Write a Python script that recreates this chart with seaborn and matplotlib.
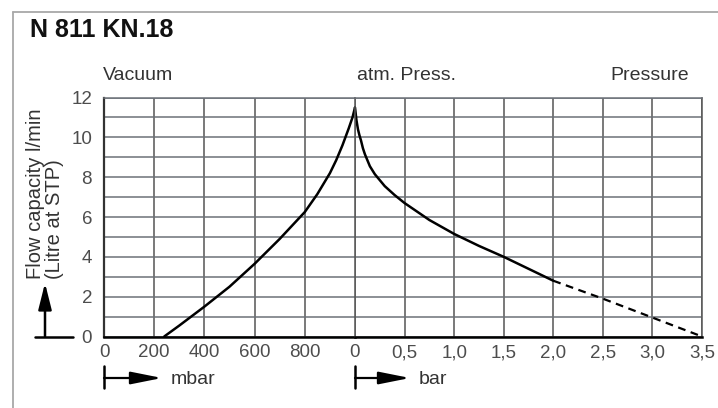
import matplotlib
matplotlib.use('Agg')
import matplotlib.pyplot as plt
import seaborn as sns
from matplotlib.lines import Line2D
from matplotlib.ticker import FuncFormatter

sns.set_style('white')
plt.rcParams['font.family'] = ['Liberation Sans', 'DejaVu Sans']

# Vacuum side (mbar) -> flow capacity l/min
vacuum_mbar = [240, 300, 400, 500, 600, 700, 800, 850, 900, 925, 950, 975,
               990, 1000]
vacuum_flow = [0.0, 0.55, 1.5, 2.5, 3.65, 4.9, 6.25, 7.15, 8.2, 8.85, 9.6,
               10.45, 11.0, 11.5]

# Pressure side (bar), measured part
pressure_bar = [0.0, 0.008, 0.015, 0.03, 0.045, 0.06, 0.08, 0.1, 0.15, 0.2,
                0.3, 0.4, 0.5, 0.75, 1.0, 1.25, 1.5, 1.75, 2.0]
pressure_flow = [11.5, 11.15, 10.85, 10.4, 10.1, 9.85, 9.45, 9.15, 8.55, 8.15,
                 7.55, 7.1, 6.7, 5.85, 5.15, 4.55, 4.0, 3.4, 2.8]

# Pressure side, extrapolated part (dashed)
extrap_bar = [2.0, 2.5, 3.0, 3.5]
extrap_flow = [2.8, 1.9, 0.95, 0.0]

mbar_ticks = [0, 200, 400, 600, 800]
bar_ticks = [0, 0.5, 1.0, 1.5, 2.0, 2.5, 3.0, 3.5]
flow_ticks = list(range(0, 13))

W, H = 718, 408
grid_v = '#555555'
grid_h = '#6c7178'
label_col = '#4d4d4d'
text_col = '#333333'


def fx(x):
    return x / W


def fy(y):
    return 1 - y / H


fig = plt.figure(figsize=(W / 100, H / 100), dpi=100)
left, mid, right = fx(104), fx(355), fx(702)
bottom, top = fy(336.5), fy(97.5)
ax_v = fig.add_axes([left, bottom, mid - left, top - bottom])
ax_p = fig.add_axes([mid, bottom, right - mid, top - bottom], sharey=ax_v)

for ax in (ax_v, ax_p):
    ax.set_ylim(0, 12)
    ax.set_yticks(flow_ticks)
    ax.grid(axis='y', color=grid_h, lw=1.1)
    ax.grid(axis='x', color=grid_v, lw=1.1)
    ax.spines['top'].set_color(grid_h)
    ax.spines['top'].set_linewidth(1.1)
    ax.spines['bottom'].set_color('black')
    ax.spines['bottom'].set_linewidth(1.8)
    ax.tick_params(axis='x', length=2.2, width=1.1, color=grid_v,
                   labelsize=13.5, labelcolor=label_col, pad=3.5)

ax_v.set_xlim(0, 1000)
ax_v.set_xticks(mbar_ticks)
ax_v.spines['left'].set_color('#333333')
ax_v.spines['left'].set_linewidth(1.6)
ax_v.spines['right'].set_visible(False)
ax_v.yaxis.set_major_formatter(
    FuncFormatter(lambda v, _: str(int(v)) if int(v) % 2 == 0 else ''))
ax_v.tick_params(axis='y', length=3.6, width=1.1, color=grid_h,
                 labelsize=13.5, labelcolor=label_col, pad=5)

ax_p.set_xlim(0, 3.5)
ax_p.set_xticks(bar_ticks)
ax_p.xaxis.set_major_formatter(
    FuncFormatter(lambda v, _: '0' if v == 0 else ('%.1f' % v).replace('.', ',')))
ax_p.spines['left'].set_color(grid_v)
ax_p.spines['left'].set_linewidth(1.1)
ax_p.spines['right'].set_color(grid_v)
ax_p.spines['right'].set_linewidth(1.1)
ax_p.tick_params(axis='y', left=False, labelleft=False)

# Curves
sns.lineplot(x=vacuum_mbar, y=vacuum_flow, ax=ax_v, color='black', lw=1.8,
             sort=False, estimator=None, clip_on=False)
sns.lineplot(x=pressure_bar, y=pressure_flow, ax=ax_p, color='black', lw=1.8,
             sort=False, estimator=None, clip_on=False)
sns.lineplot(x=extrap_bar, y=extrap_flow, ax=ax_p, color='black', lw=1.6,
             sort=False, estimator=None, clip_on=False,
             linestyle=(0, (3.5, 2.5)))
for ax in (ax_v, ax_p):
    ax.set_xlabel('')
    ax.set_ylabel('')

# Frame around the chart card
fig.add_artist(Line2D([fx(13), fx(13)], [0, fy(12)], color='#a8a8a8', lw=1.3))
fig.add_artist(Line2D([fx(13), 1], [fy(12), fy(12)], color='#a8a8a8', lw=1.3))

# Texts
fig.text(fx(30), fy(30), 'N 811 KN.18', fontsize=18, fontweight='bold',
         va='center', ha='left', color='#111111')
fig.text(fx(103), fy(75), 'Vacuum', fontsize=14, va='center', ha='left',
         color=text_col)
fig.text(fx(357), fy(75), 'atm. Press.', fontsize=14, va='center', ha='left',
         color=text_col)
fig.text(fx(689), fy(75), 'Pressure', fontsize=14, va='center', ha='right',
         color=text_col)
fig.text(fx(45), fy(279), 'Flow capacity l/min\n(Litre at STP)', rotation=90,
         ha='center', va='bottom', multialignment='left', fontsize=14.5,
         linespacing=0.95, color=text_col)

# Arrows (flow direction / pressure direction markers)
arrow_kw = dict(arrowstyle='-|>,head_length=16,head_width=4', color='black',
                lw=1.8, shrinkA=0, shrinkB=0, mutation_scale=1)
ax_v.annotate('', xy=(fx(45), fy(283)), xytext=(fx(45), fy(336.5)),
              xycoords='figure fraction', textcoords='figure fraction',
              arrowprops=arrow_kw, annotation_clip=False)
fig.add_artist(Line2D([fx(35), fx(73)], [fy(336.5), fy(336.5)],
                      color='black', lw=1.8))

harrow_kw = dict(arrowstyle='-|>,head_length=19,head_width=3.8', color='black',
                 lw=1.6, shrinkA=0, shrinkB=0, mutation_scale=1)
for x0, x1, name in ((104, 162, 'mbar'), (355, 410, 'bar')):
    fig.add_artist(Line2D([fx(x0), fx(x0)], [fy(366), fy(388)],
                          color='black', lw=1.8))
    ax_v.annotate('', xy=(fx(x1), fy(378)), xytext=(fx(x0), fy(378)),
                  xycoords='figure fraction', textcoords='figure fraction',
                  arrowprops=harrow_kw, annotation_clip=False)
    fig.text(fx(x1 + 9), fy(379), name, fontsize=14, va='center', ha='left',
             color=text_col)

fig.savefig('out.png', dpi=100)
